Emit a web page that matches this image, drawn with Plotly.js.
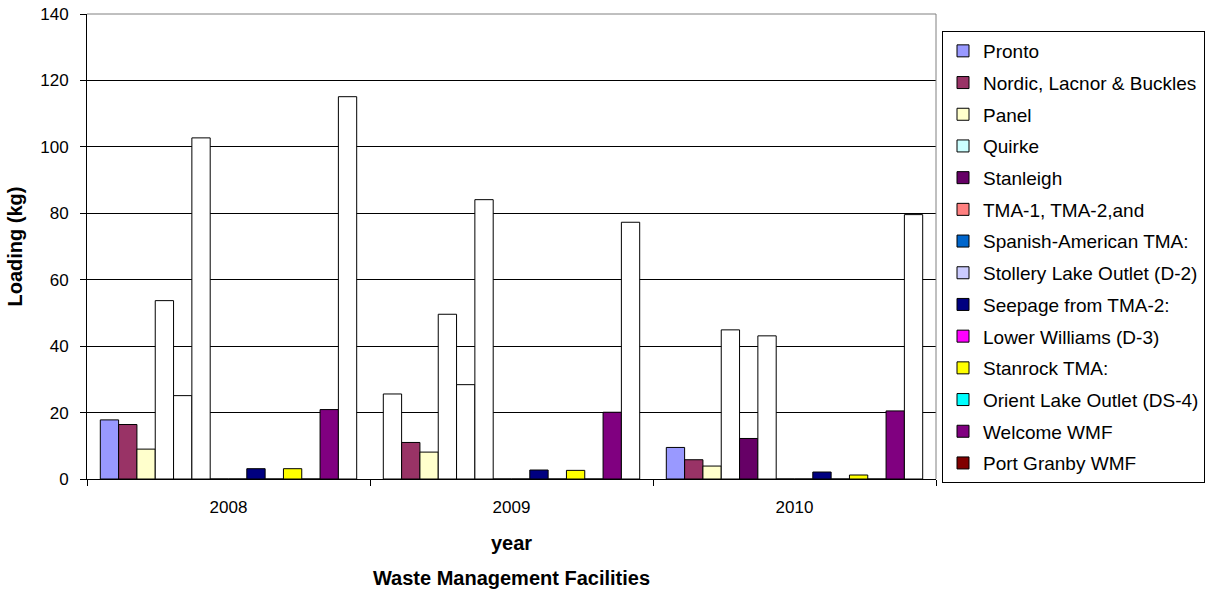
<!DOCTYPE html>
<html>
<head>
<meta charset="utf-8">
<script src="https://cdn.plot.ly/plotly-3.0.1.min.js"></script>
<style>
  html, body { margin: 0; padding: 0; background: #ffffff; }
  #chart { width: 1211px; height: 599px; }
</style>
</head>
<body>
<div id="chart"></div>
<script>
// Annual loading (kg) per facility
const years = ['2008', '2009', '2010'];

const pronto          = [17.8, 25.6, 9.5];
const nordic          = [16.4, 11.0, 5.8];
const panel           = [9.0, 8.1, 3.9];
const quirke          = [53.7, 49.6, 44.9];
const stanleigh       = [25.1, 28.4, 12.2];
const tma             = [102.7, 84.1, 43.1];
const spanishAmerican = [0, 0, 0];
const stollery        = [0, 0, 0];
const seepage         = [3.1, 2.7, 2.1];
const lowerWilliams   = [0, 0, 0];
const stanrock        = [3.1, 2.6, 1.2];
const orientLake      = [0, 0, 0];
const welcome         = [20.9, 20.1, 20.5];
const portGranby      = [115.1, 77.3, 79.6];

const seriesNames = [
  'Pronto', 'Nordic, Lacnor & Buckles', 'Panel', 'Quirke', 'Stanleigh',
  'TMA-1, TMA-2,and', 'Spanish-American TMA:', 'Stollery Lake Outlet (D-2)',
  'Seepage from TMA-2:', 'Lower Williams (D-3)', 'Stanrock TMA:',
  'Orient Lake Outlet (DS-4)', 'Welcome WMF', 'Port Granby WMF'
];
const seriesValues = [
  pronto, nordic, panel, quirke, stanleigh, tma, spanishAmerican, stollery,
  seepage, lowerWilliams, stanrock, orientLake, welcome, portGranby
];

// Series colours (used by the legend swatches)
const seriesColors = [
  '#9999FF', '#993366', '#FFFFCC', '#CCFFFF', '#660066', '#FF8080', '#0066CC',
  '#CCCCFF', '#000080', '#FF00FF', '#FFFF00', '#00FFFF', '#800080', '#800000'
];
// Individual bars that are filled white instead of the series colour
const whiteBars = {
  0: [1],
  3: [0, 1, 2],
  4: [0, 1],
  5: [0, 1, 2],
  13: [0, 1, 2]
};

const FONT = 'Arial, "Liberation Sans", sans-serif';

// The bars themselves (no legend entries: some bars are white)
const barTraces = seriesNames.map((name, i) => ({
  type: 'bar',
  name: name,
  x: years,
  y: seriesValues[i],
  showlegend: false,
  marker: {
    color: years.map((_, j) =>
      (whiteBars[i] && whiteBars[i].includes(j)) ? '#FFFFFF' : seriesColors[i]),
    line: { color: '#000000', width: 1 }
  },
  hoverinfo: 'name+y'
}));

// Legend entries with the plain series colour, on a hidden overlay axis pair
const legendTraces = seriesNames.map((name, i) => ({
  type: 'bar',
  name: name,
  x: years,
  y: years.map(() => null),
  xaxis: 'x2',
  yaxis: 'y2',
  legendgroup: 'g' + i,
  showlegend: true,
  marker: { color: seriesColors[i], line: { color: '#000000', width: 1 } },
  hoverinfo: 'skip'
}));

const layout = {
  width: 1211,
  height: 599,
  paper_bgcolor: '#FFFFFF',
  plot_bgcolor: '#FFFFFF',
  font: { family: FONT, size: 17, color: '#000000' },
  margin: { l: 87, r: 275, t: 14, b: 120, pad: 0 },
  barmode: 'group',
  bargap: 0.094,
  bargroupgap: 0,
  showlegend: true,
  title: {
    text: 'Waste Management Facilities',
    font: { family: FONT, size: 20, weight: 'bold', color: '#000000' },
    xref: 'paper', x: 0.5, xanchor: 'center',
    yref: 'container', y: 0.035, yanchor: 'middle'
  },
  legend: {
    xref: 'container', x: 942 / 1211, xanchor: 'left',
    yref: 'container', y: 1 - 31 / 599, yanchor: 'top',
    maxheight: 560,
    bgcolor: '#FFFFFF',
    bordercolor: '#000000',
    borderwidth: 1,
    font: { family: FONT, size: 19, color: '#000000' },
    traceorder: 'grouped',
    tracegroupgap: 4.0
  },
  xaxis: {
    type: 'category',
    categoryorder: 'array',
    categoryarray: years,
    showgrid: false,
    showline: true,
    linecolor: '#000000',
    linewidth: 1,
    ticks: 'outside',
    tickson: 'boundaries',
    ticklen: 6,
    tickcolor: '#000000',
    ticklabelstandoff: 13,
    tickfont: { family: FONT, size: 17 },
    title: {
      text: 'year',
      font: { family: FONT, size: 20, weight: 'bold' },
      standoff: 19
    },
    automargin: false
  },
  yaxis: {
    range: [0, 140],
    dtick: 20,
    tick0: 0,
    showgrid: true,
    gridcolor: '#000000',
    gridwidth: 1,
    zeroline: false,
    showline: true,
    linecolor: '#000000',
    linewidth: 1,
    ticks: 'outside',
    ticklen: 6,
    tickcolor: '#000000',
    ticklabelstandoff: 8,
    tickfont: { family: FONT, size: 17 },
    title: {
      text: 'Loading (kg)',
      font: { family: FONT, size: 20, weight: 'bold' },
      standoff: 12
    },
    automargin: false
  },
  xaxis2: {
    type: 'category',
    categoryorder: 'array',
    categoryarray: years,
    overlaying: 'x',
    visible: false
  },
  yaxis2: {
    range: [0, 140],
    overlaying: 'y',
    visible: false
  },
  shapes: [
    {
      // grey frame along the top and right of the plot area
      type: 'path',
      xref: 'paper', yref: 'paper',
      path: 'M 0 1 L 1 1 L 1 0',
      line: { color: '#808080', width: 1 },
      layer: 'above'
    }
  ]
};

Plotly.newPlot('chart', barTraces.concat(legendTraces), layout,
  { displayModeBar: false, staticPlot: true });
</script>
</body>
</html>
